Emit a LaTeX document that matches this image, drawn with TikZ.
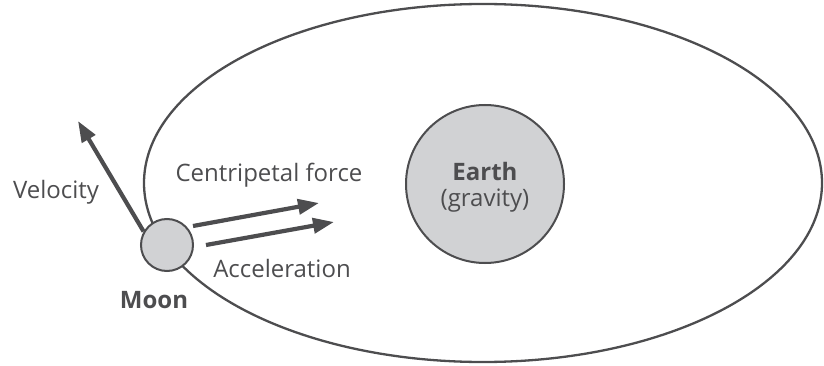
\documentclass[tikz,border=0pt]{standalone}
\usepackage{fontspec}
\setmainfont{Open Sans}
\usepackage{xcolor}
\usetikzlibrary{shapes.geometric, arrows.meta, positioning}
\definecolor{ink}{HTML}{4D4D4F}
\definecolor{body}{HTML}{D1D2D4}

\begin{document}
\begin{tikzpicture}[x=1pt, y=-1pt, font=\fontsize{24}{27}\selectfont, text=ink]
\tikzstyle{planet} = [circle, draw=ink, fill=body, line width=2pt, inner sep=0pt]
\tikzstyle{label} = [inner sep=0pt, text=ink]
\tikzstyle{line} = [draw=ink, line width=4.2pt, -{Triangle[length=21pt, width=15pt]}]

\useasboundingbox (0,0) rectangle (824,366);

\node [ellipse, draw=ink, line width=2.3pt, minimum width=678pt, minimum height=358pt] (orbit) at (483,183) {};
\node [planet, minimum size=158pt] (earth) at (485,184) {};
\node [label, font=\fontsize{24}{27}\selectfont\bfseries] at (485,172) {Earth};
\node [label] at (485,201) {(gravity)};
\node [planet, minimum size=52pt] (moon) at (167,245) {};
\node [label, font=\fontsize{24}{27}\selectfont\bfseries] at (154,300) {Moon};

\coordinate (vtip) at (78,121);
\coordinate (cstart) at (193,226);
\coordinate (ctip) at (319,203);
\coordinate (astart) at (206,245);
\coordinate (atip) at (334,222);

\draw [line] (moon.150) -- (vtip);
\draw [line] (cstart) -- (ctip);
\draw [line] (astart) -- (atip);

\node [label] at (56,192) {Velocity};
\node [label] at (269,175) {Centripetal force};
\node [label] at (282,268) {Acceleration};
\end{tikzpicture}
\end{document}
